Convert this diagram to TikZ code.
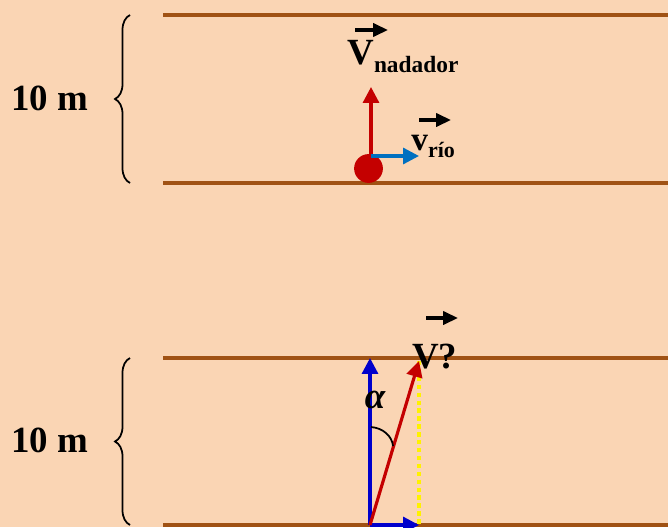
\documentclass[tikz,border=0pt]{standalone}
\usepackage{fontspec}
\setmainfont{Liberation Serif}
\usetikzlibrary{arrows.meta,decorations.pathreplacing}

\definecolor{peach}{RGB}{250,213,180}
\definecolor{riverbrown}{RGB}{160,82,20}
\definecolor{swimred}{RGB}{196,0,0}
\definecolor{riverblue}{RGB}{0,112,192}
\definecolor{darkblue}{RGB}{0,0,204}

\begin{document}
\begin{tikzpicture}[x=0.02cm, y=-0.02cm,
  bank/.style={draw=riverbrown, line width=2.3pt},
  vec/.style={-{Triangle[length=9pt,width=9pt]}, line width=1.8pt},
  vecsign/.style={-{Triangle[length=8.5pt,width=7.5pt]}, line width=1.8pt, black},
  lbl/.style={inner sep=0pt, font=\bfseries},
  bracefig/.style={decorate, decoration={brace, amplitude=0.3cm}, line width=1pt}]
  \fill[peach, use as bounding box] (0,0) rectangle (668,527);
  % top: swimmer and river
  \coordinate (b1w) at (163,15);  \coordinate (b1e) at (668,15);
  \coordinate (b2w) at (163,183); \coordinate (b2e) at (668,183);
  \draw[bank] (b1w) -- (b1e);
  \draw[bank] (b2w) -- (b2e);
  \coordinate (br1b) at (130,183); \coordinate (br1t) at (130,15);
  \draw[bracefig] (br1b) -- (br1t);
  \node[lbl, anchor=base west, font=\bfseries\fontsize{21}{25}\selectfont] (len1) at (11,110) {10 m};
  \node[circle, fill=swimred, inner sep=0pt, minimum size=16.4pt] (swimmer) at (368.5,168.5) {};
  \coordinate (o1) at (371,156);
  \coordinate (vnTip) at (371,87);
  \coordinate (vrTip) at (419,156);
  \draw[vec, swimred] (o1) -- (vnTip);
  \draw[vec, riverblue] (o1) -- (vrTip);
  \node[lbl, anchor=base west, font=\bfseries\fontsize{21}{25}\selectfont] (Vnad) at (347,65)
    {V\raisebox{-4.5pt}{\fontsize{13.3}{15}\selectfont nadador}};
  \coordinate (vn1) at (355,30); \coordinate (vn2) at (388,30);
  \draw[vecsign] (vn1) -- (vn2);
  \node[lbl, anchor=base west, font=\bfseries\fontsize{19}{22}\selectfont] (vrio) at (411,150)
    {v\raisebox{-4pt}{\fontsize{12.5}{15}\selectfont río}};
  \coordinate (vr1) at (419,120); \coordinate (vr2) at (451,120);
  \draw[vecsign] (vr1) -- (vr2);
  % bottom: resulting velocity
  \coordinate (b3w) at (163,358); \coordinate (b3e) at (668,358);
  \coordinate (b4w) at (163,525); \coordinate (b4e) at (668,525);
  \draw[bank] (b3w) -- (b3e);
  \draw[bank] (b4w) -- (b4e);
  \coordinate (br2b) at (130,525); \coordinate (br2t) at (130,358);
  \draw[bracefig] (br2b) -- (br2t);
  \node[lbl, anchor=base west, font=\bfseries\fontsize{21}{25}\selectfont] (len2) at (11,452) {10 m};
  \coordinate (o2) at (370,525);
  \coordinate (upTip) at (370,358);
  \coordinate (resTip) at (419,361);
  \coordinate (rightTip) at (419,525);
  \coordinate (ybot) at (419,527);
  \draw[yellow, line width=2pt, dash pattern=on 2.5pt off 2pt] (resTip) -- (ybot);
  \draw[vec, darkblue] (o2) -- (upTip);
  \draw[vec, darkblue] (o2) -- (rightTip);
  \draw[vec, swimred] (o2) -- (resTip);
  \coordinate (a1) at (371,427); \coordinate (a2) at (393,446);
  \draw[black, line width=1pt] (a1) .. controls (383,428) and (392,436) .. (a2);
  \node[lbl, font=\bfseries\itshape\fontsize{21}{25}\selectfont] (alpha) at (375,400) {α};
  \node[lbl, anchor=base west, font=\bfseries\fontsize{21}{25}\selectfont] (Vres) at (412,368) {V?};
  \coordinate (vq1) at (426,318); \coordinate (vq2) at (458,318);
  \draw[vecsign] (vq1) -- (vq2);
\end{tikzpicture}
\end{document}
